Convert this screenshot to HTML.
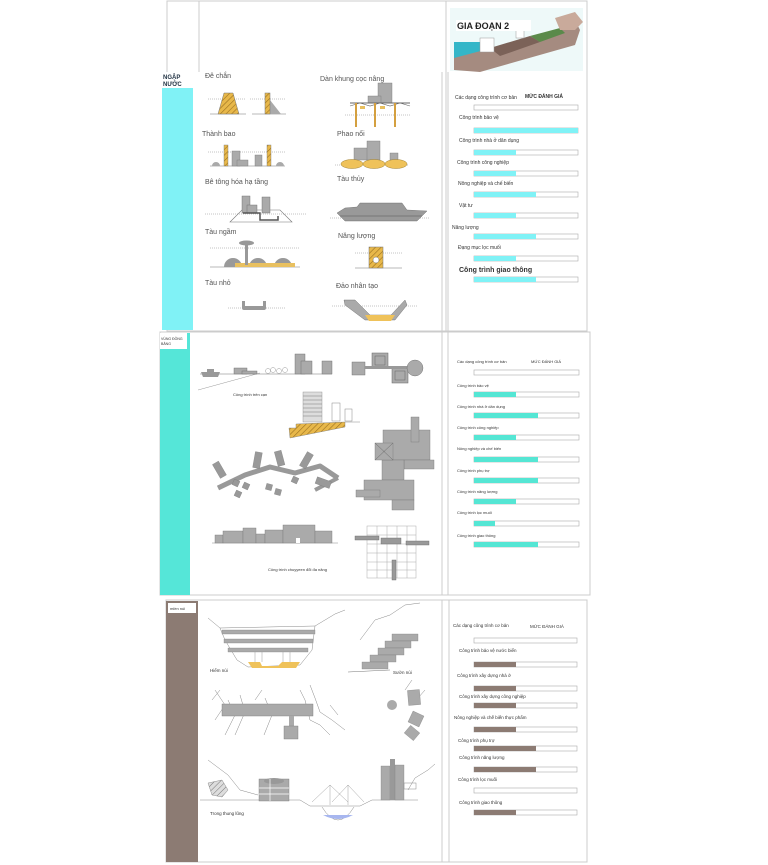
<!DOCTYPE html>
<html><head><meta charset="utf-8"><style>
html,body{margin:0;padding:0;background:#fff;}
svg{display:block;}
text{font-family:"Liberation Sans",sans-serif;}
</style></head><body>
<svg width="768" height="865" viewBox="0 0 768 865" xmlns="http://www.w3.org/2000/svg">
<defs>
<pattern id="h" width="4" height="4" patternUnits="userSpaceOnUse" patternTransform="rotate(45)">
<rect width="4" height="4" fill="#e8b84a"/><line x1="0" y1="0" x2="0" y2="4" stroke="#9a7020" stroke-width="1.2"/></pattern>
<pattern id="hg" width="4" height="4" patternUnits="userSpaceOnUse" patternTransform="rotate(45)">
<rect width="4" height="4" fill="#ddd"/><line x1="0" y1="0" x2="0" y2="4" stroke="#777" stroke-width="1"/></pattern>
</defs>
<g fill="none" stroke="#ccc" stroke-width="1">
<!-- panel 1 frames -->
<rect x="167" y="1" width="420" height="330"/>
<line x1="199" y1="1" x2="199" y2="72"/>
<line x1="446" y1="1" x2="446" y2="331"/>
<line x1="442" y1="72" x2="442" y2="331"/>
<line x1="448" y1="72" x2="448" y2="331"/>
<!-- panel 2 -->
<rect x="160" y="332" width="430" height="263"/>
<line x1="442" y1="332" x2="442" y2="595"/>
<line x1="448" y1="332" x2="448" y2="595"/>
<!-- panel 3 -->
<rect x="166" y="600" width="421" height="262"/>
<line x1="442" y1="600" x2="442" y2="862"/>
<line x1="449" y1="600" x2="449" y2="862"/>
</g>
<!-- sidebars -->
<rect x="162" y="72" width="31" height="258" fill="#80f2f6"/>
<rect x="162" y="72" width="31" height="16" fill="#fff"/>
<text x="163" y="79" font-size="6" font-weight="bold" fill="#234">NGẬP</text>
<text x="163" y="86" font-size="6" font-weight="bold" fill="#234">NƯỚC</text>
<rect x="160" y="333" width="30" height="262" fill="#55e6d8"/>
<rect x="160" y="333" width="27" height="16" fill="#fff"/>
<text x="161" y="340" font-size="3.5" fill="#333">VÙNG ĐỒNG</text>
<text x="161" y="345" font-size="3.5" fill="#333">BẰNG</text>
<rect x="166" y="601" width="32" height="261" fill="#8c7b73"/>
<rect x="168" y="603" width="28" height="10" fill="#fff"/>
<text x="170" y="610" font-size="4" fill="#333">miền núi</text>

<!-- top image -->
<rect x="450" y="8" width="133" height="63" fill="#eef9f9"/>
<rect x="454" y="42" width="40" height="25" fill="#33b6c8"/>
<polygon points="454,58 560,30 575,20 580,30 575,45 480,72 454,70" fill="#a58b80"/>
<polygon points="490,48 530,36 540,42 500,56" fill="#7b6258"/>
<polygon points="530,36 560,28 565,33 540,42" fill="#5a8a4a"/>
<polygon points="555,18 575,12 583,22 575,30 560,30" fill="#c9aa9b"/>
<rect x="480" y="38" width="14" height="14" fill="#fff" stroke="#999" stroke-width=".5"/>
<rect x="516" y="28" width="8" height="10" fill="#fff" stroke="#999" stroke-width=".5"/>
<rect x="456" y="20" width="75" height="11" fill="#fff"/>
<text x="457" y="29" font-size="9" font-weight="bold" fill="#222">GIA ĐOẠN 2</text>

<!-- panel1 drawings -->
<g font-size="7" fill="#555">
<text x="205" y="78">Đê chắn</text>
<text x="320" y="81">Dàn khung cọc nâng</text>
<text x="202" y="136">Thành bao</text>
<text x="337" y="136">Phao nổi</text>
<text x="205" y="184">Bê tông hóa hạ tầng</text>
<text x="337" y="181">Tàu thủy</text>
<text x="205" y="234">Tàu ngầm</text>
<text x="338" y="238">Năng lượng</text>
<text x="205" y="285">Tàu nhỏ</text>
<text x="336" y="288">Đảo nhân tạo</text>
</g>
<g stroke="#888" stroke-width=".5" stroke-dasharray="1,1" fill="none">
<line x1="208" y1="99" x2="245" y2="99"/><line x1="250" y1="99" x2="285" y2="99"/>
<line x1="208" y1="152" x2="286" y2="152"/><line x1="335" y1="165" x2="408" y2="165"/>
<line x1="205" y1="214" x2="306" y2="214"/><line x1="330" y1="218" x2="430" y2="218"/>
<line x1="210" y1="248" x2="300" y2="248"/><line x1="355" y1="253" x2="402" y2="253"/>
<line x1="228" y1="308" x2="285" y2="308"/><line x1="332" y1="306" x2="418" y2="306"/>
<line x1="345" y1="115" x2="410" y2="115"/>
</g>
<g stroke="#777" stroke-width=".6">
<line x1="210" y1="114" x2="246" y2="114"/><line x1="252" y1="114" x2="286" y2="114"/>
<line x1="210" y1="166" x2="285" y2="166"/>
<line x1="210" y1="267" x2="300" y2="267"/><line x1="355" y1="268" x2="402" y2="268"/>
</g>
<polygon points="224,93 233,93 239,114 218,114" fill="url(#h)" stroke="#777" stroke-width=".5"/>
<polygon points="270,93 270,114 281,114 270,100" fill="#aaa"/>
<rect x="265" y="93" width="5" height="21" fill="url(#h)" stroke="#777" stroke-width=".5"/>
<!-- dan khung -->
<rect x="378" y="83" width="14" height="20" fill="#aaa" stroke="#777" stroke-width=".4"/>
<rect x="368" y="96" width="13" height="7" fill="#aaa" stroke="#777" stroke-width=".4"/>
<line x1="350" y1="103" x2="410" y2="103" stroke="#666" stroke-width="1"/>
<path d="M350,106 L360,103 L370,106 L380,103 L390,106 L400,103 L410,106" stroke="#666" fill="none" stroke-width=".6"/>
<rect x="355" y="103" width="2" height="24" fill="#d4a040"/><rect x="374" y="103" width="2" height="24" fill="#d4a040"/><rect x="394" y="103" width="2" height="24" fill="#d4a040"/>
<rect x="360" y="106" width="5" height="3" fill="#e8c060"/><rect x="380" y="106" width="5" height="3" fill="#e8c060"/>
<!-- thanh bao -->
<rect x="224" y="145" width="4" height="21" fill="url(#h)" stroke="#777" stroke-width=".4"/>
<rect x="267" y="145" width="4" height="21" fill="url(#h)" stroke="#777" stroke-width=".4"/>
<rect x="232" y="151" width="8" height="15" fill="#aaa" stroke="#777" stroke-width=".4"/>
<rect x="237" y="160" width="11" height="6" fill="#aaa" stroke="#777" stroke-width=".4"/>
<rect x="255" y="155" width="7" height="11" fill="#aaa" stroke="#777" stroke-width=".4"/>
<path d="M212,166 a4,4 0 0 1 8,0z M276,166 a4,4 0 0 1 8,0z" fill="#aaa"/>
<!-- phao noi -->
<rect x="354" y="148" width="16" height="12" fill="#aaa" stroke="#777" stroke-width=".4"/>
<rect x="367" y="141" width="13" height="19" fill="#aaa" stroke="#777" stroke-width=".4"/>
<rect x="390" y="153" width="8" height="7" fill="#aaa" stroke="#777" stroke-width=".4"/>
<ellipse cx="352" cy="164" rx="11" ry="4.5" fill="#efc25a" stroke="#a08030" stroke-width=".5"/>
<ellipse cx="374" cy="164" rx="11" ry="4.5" fill="#efc25a" stroke="#a08030" stroke-width=".5"/>
<ellipse cx="396" cy="164" rx="11" ry="4.5" fill="#efc25a" stroke="#a08030" stroke-width=".5"/>
<!-- be tong -->
<polygon points="230,222 242,210 280,210 292,222" fill="none" stroke="#777" stroke-width=".6"/>
<rect x="242" y="196" width="8" height="17" fill="#aaa" stroke="#666" stroke-width=".4"/>
<rect x="247" y="205" width="10" height="8" fill="#aaa" stroke="#666" stroke-width=".4"/>
<rect x="262" y="197" width="8" height="16" fill="#aaa" stroke="#666" stroke-width=".4"/>
<path d="M243,213 h17 v7 h18 v-4" fill="none" stroke="#555" stroke-width="1.5"/>
<!-- ship -->
<polygon points="337,213 345,221 417,221 427,211 407,210 402,203 360,203 357,207 345,208" fill="#999" stroke="#666" stroke-width=".4"/>
<line x1="340" y1="216" x2="422" y2="216" stroke="#555" stroke-width=".5"/>
<!-- submarine domes -->
<path d="M224,267 a9,9 0 0 1 18,0z M249,267 a9,9 0 0 1 18,0z M274,267 a9,9 0 0 1 18,0z" fill="#999"/>
<rect x="235" y="263" width="60" height="4" fill="#e8c060"/>
<rect x="245" y="245" width="3" height="20" fill="#999"/>
<ellipse cx="246.5" cy="243" rx="7.5" ry="2.5" fill="#999"/>
<!-- nang luong -->
<rect x="369" y="247" width="14" height="21" fill="url(#h)" stroke="#777" stroke-width=".5"/>
<circle cx="376" cy="260" r="3" fill="#fff" stroke="#777" stroke-width=".5"/>
<!-- tau nho -->
<path d="M242,301 v7 q0,2 2,2 h20 q2,0 2,-2 v-7 h-3 v5 h-18 v-5z" fill="#999"/>
<!-- dao nhan tao -->
<polygon points="344,300 355,300 370,315 391,315 405,300 407,305 395,320 365,320 345,305" fill="#aaa" stroke="#666" stroke-width=".4"/>
<polygon points="365,315 395,315 391,321 369,321" fill="#efc25a"/>

<!-- Panel 1 bars -->
<g font-size="5" fill="#333">
<text x="455" y="99">Các dạng công trình cơ bản</text><text x="525" y="98" font-weight="bold">MỨC ĐÁNH GIÁ</text>
<text x="459" y="119">Công trình bảo vệ</text>
<text x="459" y="142">Công trình nhà ở dân dụng</text>
<text x="457" y="164">Công trình công nghiệp</text>
<text x="458" y="185">Nông nghiệp và chế biến</text>
<text x="459" y="207">Vật tư</text>
<text x="452" y="229">Năng lượng</text>
<text x="458" y="249">Đạng mục lọc muối</text>
<text x="459" y="272" font-size="7" font-weight="bold">Công trình giao thông</text>
</g>
<g stroke="#aaa" stroke-width=".6" fill="#fff">
<rect x="474" y="105" width="104" height="5"/><rect x="474" y="128" width="104" height="5"/><rect x="474" y="150" width="104" height="5"/><rect x="474" y="171" width="104" height="5"/><rect x="474" y="192" width="104" height="5"/><rect x="474" y="213" width="104" height="5"/><rect x="474" y="234" width="104" height="5"/><rect x="474" y="256" width="104" height="5"/><rect x="474" y="277" width="104" height="5"/>
</g>
<g fill="#80f2f6">
<rect x="474" y="128" width="104" height="5"/><rect x="474" y="150" width="42" height="5"/><rect x="474" y="171" width="42" height="5"/><rect x="474" y="192" width="62" height="5"/><rect x="474" y="213" width="42" height="5"/><rect x="474" y="234" width="62" height="5"/><rect x="474" y="256" width="42" height="5"/><rect x="474" y="277" width="62" height="5"/>
</g>

<!-- Panel 2 drawings -->
<line x1="198" y1="390" x2="260" y2="373" stroke="#999" stroke-width=".5"/>
<line x1="200" y1="374" x2="332" y2="374" stroke="#777" stroke-width=".6"/>
<polygon points="201,372 220,372 218,377 203,377" fill="#999"/>
<rect x="207" y="369" width="7" height="3" fill="#999"/>
<rect x="234" y="368" width="13" height="6" fill="#aaa" stroke="#666" stroke-width=".4"/>
<rect x="242" y="371" width="15" height="3" fill="#aaa" stroke="#666" stroke-width=".4"/>
<g fill="#fff" stroke="#999" stroke-width=".5"><circle cx="268" cy="371" r="2.5"/><circle cx="273" cy="370" r="2.5"/><circle cx="279" cy="371" r="2.5"/><circle cx="285" cy="370" r="2.5"/></g>
<rect x="295" y="354" width="10" height="20" fill="#aaa" stroke="#666" stroke-width=".4"/>
<rect x="301" y="361" width="11" height="13" fill="#aaa" stroke="#666" stroke-width=".4"/>
<rect x="322" y="361" width="10" height="13" fill="#aaa" stroke="#666" stroke-width=".4"/>
<text x="233" y="396" font-size="4" fill="#333">Công trình trên cạn</text>
<rect x="352" y="362" width="13" height="13" fill="#aaa" stroke="#666" stroke-width=".4"/>
<rect x="372" y="353" width="16" height="15" fill="#aaa" stroke="#666" stroke-width=".5"/>
<rect x="375" y="356" width="10" height="9" fill="none" stroke="#666" stroke-width=".5"/>
<rect x="392" y="368" width="16" height="15" fill="#aaa" stroke="#666" stroke-width=".5"/>
<rect x="395" y="371" width="10" height="9" fill="none" stroke="#666" stroke-width=".5"/>
<rect x="365" y="366" width="45" height="3" fill="#999"/>
<circle cx="415" cy="368" r="8" fill="#aaa" stroke="#666" stroke-width=".4"/>
<rect x="303" y="392" width="19" height="30" fill="#ddd" stroke="#888" stroke-width=".4"/>
<g stroke="#999" stroke-width=".7"><line x1="303" y1="396" x2="322" y2="396"/><line x1="303" y1="400" x2="322" y2="400"/><line x1="303" y1="404" x2="322" y2="404"/><line x1="303" y1="408" x2="322" y2="408"/><line x1="303" y1="412" x2="322" y2="412"/><line x1="303" y1="416" x2="322" y2="416"/></g>
<rect x="332" y="403" width="8" height="18" fill="#fff" stroke="#888" stroke-width=".5"/>
<rect x="345" y="409" width="7" height="12" fill="#fff" stroke="#888" stroke-width=".5"/>
<polygon points="289,428 296,428 296,424 345,422 345,427 290,438" fill="url(#h)" stroke="#777" stroke-width=".4"/>
<line x1="345" y1="422" x2="360" y2="422" stroke="#888" stroke-width=".5"/>
<!-- zigzag plan -->
<polyline points="218,488 245,475 270,467 295,473 320,466 338,478" fill="none" stroke="#999" stroke-width="5" stroke-linejoin="round"/>
<polyline points="338,478 315,490" fill="none" stroke="#999" stroke-width="4"/>
<g fill="#999" stroke="#777" stroke-width=".3">
<rect x="216" y="462" width="7" height="16" transform="rotate(-30 219 470)"/>
<rect x="254" y="452" width="7" height="16" transform="rotate(10 257 460)"/>
<rect x="276" y="451" width="7" height="15" transform="rotate(-15 279 458)"/>
<rect x="303" y="452" width="7" height="16" transform="rotate(30 306 460)"/>
<rect x="316" y="479" width="15" height="7" transform="rotate(20 323 482)"/>
<rect x="233" y="480" width="6" height="6" transform="rotate(25 236 483)"/>
<rect x="243" y="483" width="6" height="6" transform="rotate(25 246 486)"/>
<rect x="235" y="491" width="6" height="6" transform="rotate(25 238 494)"/>
<rect x="266" y="484" width="6" height="6" transform="rotate(15 269 487)"/>
<rect x="275" y="489" width="6" height="6" transform="rotate(15 278 492)"/>
<rect x="292" y="477" width="6" height="6" transform="rotate(25 295 480)"/>
</g>
<!-- big plan -->
<g fill="#aaa" stroke="#777" stroke-width=".4">
<rect x="383" y="430" width="47" height="30"/><rect x="404" y="460" width="30" height="9"/><rect x="382" y="460" width="22" height="20"/>
<rect x="364" y="480" width="50" height="20"/><rect x="392" y="500" width="22" height="10"/><rect x="356" y="490" width="24" height="7"/>
<rect x="411" y="417" width="8" height="25"/>
<rect x="375" y="443" width="18" height="17"/>
</g>
<path d="M375,443 L393,460 M393,443 L375,460" stroke="#666" stroke-width=".5"/>
<!-- bottom section -->
<line x1="212" y1="543" x2="338" y2="543" stroke="#888" stroke-width=".5"/>
<g fill="#aaa" stroke="#777" stroke-width=".4">
<rect x="215" y="535" width="8" height="8"/><rect x="223" y="531" width="20" height="12"/><rect x="243" y="528" width="13" height="15"/><rect x="256" y="534" width="9" height="9"/><rect x="265" y="530" width="18" height="13"/><rect x="283" y="525" width="32" height="18"/><rect x="315" y="531" width="17" height="12"/>
</g>
<rect x="296" y="538" width="4" height="5" fill="#fff"/>
<text x="268" y="571" font-size="4" fill="#333">Công trình chuyyeen đổi đa năng</text>
<g stroke="#aaa" stroke-width=".5" fill="none">
<rect x="367" y="526" width="49" height="52"/>
<line x1="377" y1="526" x2="377" y2="578"/><line x1="387" y1="526" x2="387" y2="578"/><line x1="397" y1="526" x2="397" y2="578"/><line x1="407" y1="526" x2="407" y2="578"/>
<line x1="367" y1="535" x2="416" y2="535"/><line x1="367" y1="544" x2="416" y2="544"/><line x1="367" y1="553" x2="416" y2="553"/><line x1="367" y1="562" x2="416" y2="562"/><line x1="367" y1="570" x2="416" y2="570"/>
</g>
<g fill="#999" stroke="#666" stroke-width=".4">
<rect x="355" y="536" width="24" height="4"/><rect x="381" y="538" width="20" height="6"/><rect x="406" y="541" width="23" height="4"/><rect x="392" y="560" width="4" height="20"/>
</g>

<!-- Panel 2 bars -->
<g font-size="4" fill="#333">
<text x="457" y="363">Các dạng công trình cơ bản</text><text x="531" y="363">MỨC ĐÁNH GIÁ</text>
<text x="457" y="387">Công trình bảo vệ</text>
<text x="457" y="408">Công trình nhà ở dân dụng</text>
<text x="457" y="429">Công trình công nghiệp</text>
<text x="457" y="450">Nông nghiệp và chế biến</text>
<text x="457" y="472">Công trình phụ trợ</text>
<text x="457" y="493">Công trình năng lượng</text>
<text x="457" y="514">Công trình lọc muối</text>
<text x="457" y="537">Công trình giao thông</text>
</g>
<g stroke="#aaa" stroke-width=".6" fill="#fff">
<rect x="474" y="370" width="105" height="5"/><rect x="474" y="392" width="105" height="5"/><rect x="474" y="413" width="105" height="5"/><rect x="474" y="435" width="105" height="5"/><rect x="474" y="457" width="105" height="5"/><rect x="474" y="478" width="105" height="5"/><rect x="474" y="499" width="105" height="5"/><rect x="474" y="521" width="105" height="5"/><rect x="474" y="542" width="105" height="5"/>
</g>
<g fill="#55e6d4">
<rect x="474" y="392" width="42" height="5"/><rect x="474" y="413" width="64" height="5"/><rect x="474" y="435" width="42" height="5"/><rect x="474" y="457" width="64" height="5"/><rect x="474" y="478" width="64" height="5"/><rect x="474" y="499" width="42" height="5"/><rect x="474" y="521" width="21" height="5"/><rect x="474" y="542" width="64" height="5"/>
</g>

<!-- Panel 3 drawings -->
<g fill="none" stroke="#888" stroke-width=".5">
<path d="M208,618 L220,628 L315,626 L335,614 L345,610"/>
<path d="M220,628 L225,640 L237,660 L248,667 L300,665 L312,650 L315,626"/>
<path d="M360,640 L375,620 L390,615 L405,605 L420,603"/>
<path d="M212,700 L220,690 M215,720 L225,705 L215,690 M225,735 L235,715 L228,700 M235,735 L245,712 L240,695 M255,700 L262,690 M264,735 L272,715 L265,698"/>
<path d="M300,690 L305,700 L310,720 L320,725 L330,735 M310,685 L315,698 L320,712 L332,720 L345,730 M330,705 L338,715"/>
<path d="M405,690 L412,680 M418,698 L425,690"/>
<path d="M208,760 L228,775 L240,790 L258,795"/>
<path d="M200,800 L300,800 L310,806 L360,806 L372,800 L418,800"/>
<path d="M408,790 L415,778 L428,770 L435,764"/>
</g>
<g fill="#aaa" stroke="#777" stroke-width=".3">
<rect x="222" y="630" width="93" height="4"/><rect x="224" y="639" width="89" height="4"/><rect x="228" y="648" width="80" height="4"/>
</g>
<polygon points="248,662 260,662 262,666 278,666 282,662 300,662 296,668 252,668" fill="#efc25a"/>
<g stroke="#999" stroke-width=".5"><line x1="255" y1="652" x2="255" y2="662"/><line x1="262" y1="652" x2="262" y2="662"/><line x1="283" y1="652" x2="283" y2="662"/><line x1="290" y1="652" x2="290" y2="662"/></g>
<text x="210" y="672" font-size="4.5" fill="#333">Hiểm núi</text>
<g fill="#aaa" stroke="#777" stroke-width=".3">
<rect x="392" y="634" width="26" height="7"/><rect x="385" y="641" width="26" height="7"/><rect x="378" y="648" width="26" height="7"/><rect x="370" y="655" width="26" height="7"/><rect x="362" y="662" width="26" height="7"/>
</g>
<line x1="348" y1="672" x2="390" y2="670" stroke="#777" stroke-width=".5"/>
<text x="393" y="674" font-size="4.5" fill="#333">Sườn núi</text>
<rect x="222" y="704" width="91" height="12" fill="#aaa" stroke="#777" stroke-width=".4"/>
<rect x="289" y="716" width="5" height="10" fill="#aaa"/>
<rect x="284" y="726" width="14" height="13" fill="#aaa" stroke="#777" stroke-width=".4"/>
<circle cx="392" cy="705" r="5" fill="#aaa"/>
<g fill="#aaa" stroke="#777" stroke-width=".3">
<rect x="408" y="690" width="12" height="15" transform="rotate(-5 414 697)"/>
<rect x="410" y="713" width="12" height="12" transform="rotate(25 416 719)"/>
<rect x="406" y="728" width="12" height="10" transform="rotate(40 412 733)"/>
</g>
<polygon points="208,783 222,780 228,790 222,797 212,795" fill="url(#hg)" stroke="#777" stroke-width=".4"/>
<rect x="259" y="779" width="30" height="22" fill="#aaa" stroke="#777" stroke-width=".4"/>
<ellipse cx="274" cy="781" rx="10" ry="3" fill="#999"/>
<g stroke="#fff" stroke-width=".7"><line x1="259" y1="788" x2="289" y2="788"/><line x1="259" y1="794" x2="289" y2="794"/><line x1="270" y1="779" x2="270" y2="801"/></g>
<g stroke="#888" stroke-width=".4" fill="none">
<path d="M330,785 L312,802 M330,785 L348,802 M348,785 L332,802 M348,785 L364,802 M330,785 L330,805 M348,785 L348,805"/>
</g>
<path d="M322,807 Q330,820 338,820 Q346,820 354,807" fill="none" stroke="#888" stroke-width=".5"/>
<path d="M323,815 Q338,823 353,815 Z" fill="#a7b6ef"/>
<rect x="381" y="766" width="9" height="34" fill="#aaa" stroke="#777" stroke-width=".3"/>
<rect x="390" y="759" width="5" height="41" fill="#999"/>
<rect x="395" y="765" width="9" height="35" fill="#aaa" stroke="#777" stroke-width=".3"/>
<rect x="404" y="783" width="12" height="6" fill="none" stroke="#888" stroke-width=".5"/>
<text x="210" y="815" font-size="4.5" fill="#333">Trong thung lũng</text>

<!-- Panel 3 bars -->
<g font-size="4.5" fill="#333">
<text x="453" y="627">Các dạng công trình cơ bản</text><text x="530" y="628">MỨC ĐÁNH GIÁ</text>
<text x="459" y="652">Công trình bảo vệ nước biển</text>
<text x="457" y="677">Công trình xây dựng nhà ở</text>
<text x="459" y="698">Công trình xây dựng công nghiệp</text>
<text x="454" y="719">Nông nghiệp và chế biến thực phẩm</text>
<text x="458" y="742">Công trình phụ trợ</text>
<text x="459" y="759">Công trình năng lượng</text>
<text x="458" y="781">Công trình lọc muối</text>
<text x="459" y="804">Công trình giao thông</text>
</g>
<g stroke="#aaa" stroke-width=".6" fill="#fff">
<rect x="474" y="638" width="103" height="5"/><rect x="474" y="662" width="103" height="5"/><rect x="474" y="686" width="103" height="5"/><rect x="474" y="703" width="103" height="5"/><rect x="474" y="727" width="103" height="5"/><rect x="474" y="746" width="103" height="5"/><rect x="474" y="767" width="103" height="5"/><rect x="474" y="788" width="103" height="5"/><rect x="474" y="810" width="103" height="5"/>
</g>
<g fill="#8c7b73">
<rect x="474" y="662" width="42" height="5"/><rect x="474" y="686" width="42" height="5"/><rect x="474" y="703" width="42" height="5"/><rect x="474" y="727" width="42" height="5"/><rect x="474" y="746" width="62" height="5"/><rect x="474" y="767" width="62" height="5"/><rect x="474" y="810" width="42" height="5"/>
</g>
</svg>
</body></html>
